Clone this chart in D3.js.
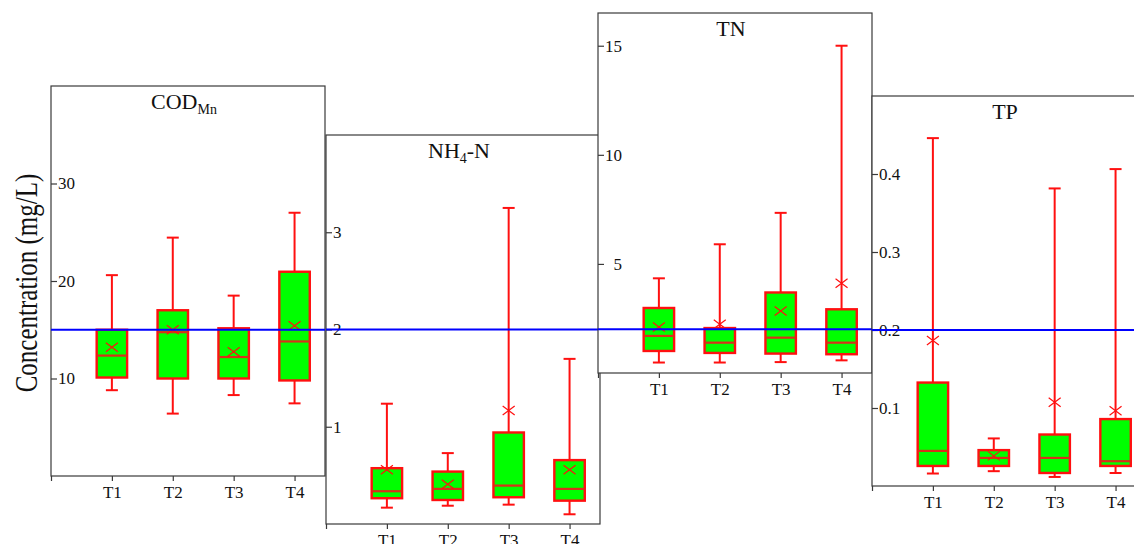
<!DOCTYPE html>
<html>
<head>
<meta charset="utf-8">
<script src="https://cdnjs.cloudflare.com/ajax/libs/d3/7.8.5/d3.min.js"></script>
<style>
  html, body { margin: 0; padding: 0; background: #fff; }
  svg text { font-family: "Liberation Serif", "Times New Roman", serif; fill: #111; }
</style>
</head>
<body>
<div id="chart"></div>
<script>
// data: [lower whisker, Q1, median, Q3, upper whisker, mean]
const categories = ["T1", "T2", "T3", "T4"]
const panelNames = ["COD", "NH", "TN", "TP"]
const panelSubs = ["Mn", "4", "", ""]
const panelAfter = ["", "-N", "", ""]

const codStats = [
    [8.8, 10.1, 12.35, 15.0, 20.6, 13.2],
    [6.4, 10.0, 14.75, 17.0, 24.45, 15.0],
    [8.3, 10.0, 12.2, 15.15, 18.5, 12.75],
    [7.45, 9.8, 13.8, 20.95, 27.0, 15.4]
]
const nh4Stats = [
    [0.168, 0.265, 0.337, 0.574, 1.237, 0.557],
    [0.188, 0.247, 0.361, 0.539, 0.729, 0.409],
    [0.199, 0.275, 0.395, 0.941, 3.25, 1.168],
    [0.10, 0.24, 0.361, 0.657, 1.698, 0.557]
]
const tnStats = [
    [0.48, 1.01, 1.70, 2.98, 4.34, 2.11],
    [0.48, 0.92, 1.39, 2.06, 5.9, 2.23],
    [0.50, 0.89, 1.62, 3.69, 7.34, 2.84],
    [0.58, 0.86, 1.39, 2.92, 15.0, 4.11]
]
const tpStats = [
    [0.016, 0.0257, 0.045, 0.1326, 0.446, 0.1866],
    [0.019, 0.0257, 0.036, 0.046, 0.061, 0.0386],
    [0.0116, 0.0167, 0.036, 0.066, 0.3815, 0.1073],
    [0.0167, 0.0257, 0.0318, 0.0858, 0.4063, 0.0965]
]
const standards = [15, 2, 2, 0.2]
const yMax = [40, 4, 16.5, 0.5]
const yTicks = [[10, 20, 30], [1, 2, 3], [5, 10, 15], [0.1, 0.2, 0.3, 0.4]]
const allStats = [codStats, nh4Stats, tnStats, tpStats]

// layout
const W = 1134, H = 544
const panelLeft = [51, 326, 598, 872]
const panelTop = [86, 135, 13, 96]
const panelBottom = [476, 524, 373, 486]
const panelW = 274

var svg = d3.select("#chart").append("svg")
    .attr("width", W)
    .attr("height", H)

svg.append("rect").attr("width", W).attr("height", H).attr("fill", "#fff")

const scales = []

function draw_panel(i)
{
    const h = panelBottom[i] - panelTop[i]
    const g = svg.append("g")
        .attr("transform", `translate(${panelLeft[i]}, ${panelTop[i]})`)

    const x = d3.scaleLinear().domain([0, 4.5]).range([0, panelW])
    const y = d3.scaleLinear().domain([0, yMax[i]]).range([h, 0])
    scales.push({ x: x, y: y, g: g })

    g.append("rect")
        .attr("width", panelW).attr("height", h)
        .attr("fill", "#fff")
        .attr("stroke", "#3a3a3a")
        .attr("stroke-width", 1.2)

    // left axis, ticks pointing in, labels inside
    const ya = g.append("g")
        .call(d3.axisLeft(y).tickValues(yTicks[i]).tickSize(-6).tickFormat(d3.format("")))
    ya.select(".domain").remove()
    ya.selectAll("line").attr("stroke", "#3a3a3a").attr("stroke-width", 1.2)
    ya.selectAll("text")
        .attr("font-size", 17)
        .attr("font-family", "Liberation Serif")
    var maxW = 0
    ya.selectAll("text").each(function () { maxW = Math.max(maxW, this.getComputedTextLength()) })
    ya.selectAll("text").attr("text-anchor", "end").attr("x", 7 + maxW)

    // bottom axis
    const xa = g.append("g")
        .attr("transform", `translate(0, ${h})`)
        .call(d3.axisBottom(x).tickValues([0, 1, 2, 3, 4]).tickSize(5).tickSizeOuter(0)
            .tickFormat(d => d ? categories[d - 1] : ""))
    xa.select(".domain").remove()
    xa.selectAll("line").attr("stroke", "#3a3a3a").attr("stroke-width", 1.2)
    xa.selectAll("text")
        .attr("font-size", 17)
        .attr("font-family", "Liberation Serif")
        .attr("y", 8)
        .attr("dy", "0.85em")

    // title
    const t = g.append("text")
        .attr("x", panelW / 2 - 4)
        .attr("y", 23)
        .attr("text-anchor", "middle")
        .attr("font-size", 22)
    t.append("tspan").text(panelNames[i])
    if (panelSubs[i]) {
        t.append("tspan").attr("font-size", 14).attr("dy", 5).text(panelSubs[i])
        if (panelAfter[i]) t.append("tspan").attr("dy", -5).text(panelAfter[i])
    }

    // boxes
    const bw = x(0.25) - x(0)
    const cw = 6
    const box = g.selectAll(".box")
        .data(allStats[i])
        .enter().append("g")
        .attr("class", "box")
        .attr("transform", (d, k) => `translate(${x(k + 1)}, 0)`)

    box.append("line")
        .attr("y1", d => y(d[3])).attr("y2", d => y(d[4]))
        .attr("stroke", "#ff1010").attr("stroke-width", 2)
    box.append("line")
        .attr("y1", d => y(d[0])).attr("y2", d => y(d[1]))
        .attr("stroke", "#ff1010").attr("stroke-width", 2)
    box.append("line")
        .attr("x1", -cw).attr("x2", cw)
        .attr("y1", d => y(d[4])).attr("y2", d => y(d[4]))
        .attr("stroke", "#ff1010").attr("stroke-width", 2)
    box.append("line")
        .attr("x1", -cw).attr("x2", cw)
        .attr("y1", d => y(d[0])).attr("y2", d => y(d[0]))
        .attr("stroke", "#ff1010").attr("stroke-width", 2)
    box.append("rect")
        .attr("x", -bw).attr("width", 2 * bw)
        .attr("y", d => y(d[3]))
        .attr("height", d => y(d[1]) - y(d[3]))
        .attr("fill", "#00ff00")
        .attr("stroke", "#ff1010")
        .attr("stroke-width", 2.4)
    box.append("line")
        .attr("x1", -bw).attr("x2", bw)
        .attr("y1", d => y(d[2])).attr("y2", d => y(d[2]))
        .attr("stroke", "#d8301a").attr("stroke-width", 2.2)
    // mean marker
    box.append("path")
        .attr("d", d => {
            const m = y(d[5])
            return `M-6,${m - 4.5}L6,${m + 4.5}M-6,${m + 4.5}L6,${m - 4.5}`
        })
        .attr("stroke", "#ff1010").attr("stroke-width", 1.2).attr("fill", "none")
}

for (let i = 0; i < 4; i++) draw_panel(i)

// standard lines on top
scales.forEach((s, i) => {
    s.g.append("line")
        .attr("x1", 0).attr("x2", panelW)
        .attr("y1", s.y(standards[i])).attr("y2", s.y(standards[i]))
        .attr("stroke", "#0000ff").attr("stroke-width", 2)
})

// y axis title
svg.append("text")
    .attr("transform", `translate(37, ${(panelTop[0] + panelBottom[0]) / 2 + 2}) rotate(-90) scale(1, 1.3)`)
    .attr("text-anchor", "middle")
    .attr("font-size", 25)
    .text("Concentration (mg/L)")
</script>
</body>
</html>
